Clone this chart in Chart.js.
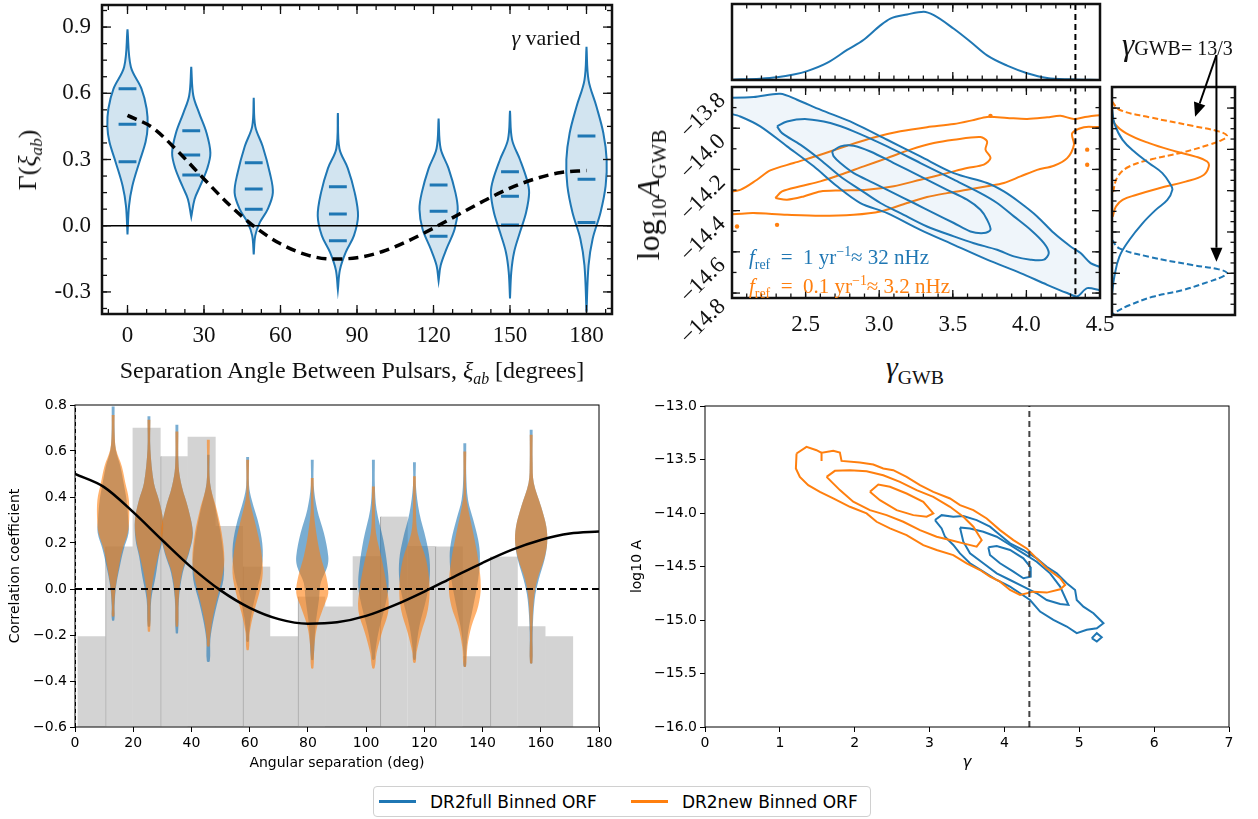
<!DOCTYPE html>
<html>
<head>
<meta charset="utf-8">
<title>Binned ORF violins and gamma - amplitude posteriors</title>
<script src="https://cdn.jsdelivr.net/npm/chart.js@4.4.1/dist/chart.umd.min.js"></script>
<style>
  html, body { margin: 0; padding: 0; background: #fff; }
  #fig { position: relative; width: 1258px; height: 819px; overflow: hidden; }
  #fig canvas { position: absolute; }
  .tx { position: absolute; white-space: nowrap; font-family: 'Liberation Serif', serif; color: #111; line-height: 1; }
  .tx sub, .tx sup { font-size: 0.66em; line-height: 0; }
  .ctr { transform: translate(-50%, -50%); }
  .rot { transform: translate(-50%, -50%) rotate(-90deg); }
  #legend { position: absolute; left: 373px; top: 786px; height: 31px; box-sizing: border-box;
            border: 1px solid #d0d0d0; border-radius: 4px; display: flex; align-items: center;
            padding: 0 12px 0 5px; font-family: 'DejaVu Sans', sans-serif; font-size: 17px; color: #000; }
  #legend .sw { display: inline-block; width: 37px; height: 3px; margin-right: 14px; }
  #legend .sw.o { margin-left: 34px; }
</style>
</head>
<body>
<div id="fig">
  <div class="tx rot" style="left:28px;top:160px;font-size:26px">&Gamma;(<i>&xi;</i><sub><i>ab</i></sub>)</div>
  <div class="tx ctr" style="left:352px;top:370px;font-size:24px">Separation Angle Between Pulsars, <i>&xi;</i><sub><i>ab</i></sub> [degrees]</div>
  <div class="tx ctr" style="left:546px;top:38px;font-size:22px"><i>&gamma;</i> varied</div>

  <div class="tx rot" style="left:648px;top:195px;font-size:32px">log<sub>10</sub><i>A</i><sub>GWB</sub></div>
  <div class="tx ctr" style="left:915px;top:367px;font-size:30px"><i>&gamma;</i><sub>GWB</sub></div>
  <div class="tx" style="left:749px;top:247px;font-size:21px;color:#1f77b4"><i>f</i><sub>ref</sub>&nbsp;&nbsp;=&nbsp;&nbsp;1 yr<sup>&minus;1</sup>&asymp; 32 nHz</div>
  <div class="tx" style="left:749px;top:276px;font-size:21px;color:#ff7f0e"><i>f</i><sub>ref</sub>&nbsp;&nbsp;=&nbsp;&nbsp;0.1 yr<sup>&minus;1</sup>&asymp; 3.2 nHz</div>
  <div class="tx" style="left:1122px;top:29px;font-size:20px"><i style="font-size:31px">&gamma;</i>GWB= 13/3</div>

  <div id="legend"><i class="sw" style="background:#1f77b4"></i><span>DR2full Binned ORF</span><i class="sw o" style="background:#ff7f0e"></i><span>DR2new Binned ORF</span></div>
</div>
<script>
// ---- top left: binned ORF, gamma varied ----
const sepTicksA = [0, 30, 60, 90, 120, 150, 180];
const gammaTicksA = [-0.3, 0, 0.3, 0.6, 0.9];
const sepAnglesA = [0, 25, 49.5, 82.5, 122, 150, 180];
// [correlation, half width in degrees]
const violinsA = [
  [[0.89,0],[0.72,1.3],[0.62,5.5],[0.53,7.5],[0.45,7.9],[0.38,7.1],[0.29,4.7],[0.18,1.9],[0.09,0.6],[-0.04,0]],
  [[0.72,0],[0.59,0.8],[0.51,3.1],[0.42,6.0],[0.33,7.5],[0.26,6.3],[0.18,3.5],[0.12,1.3],[0.04,0]],
  [[0.58,0],[0.45,0.6],[0.36,3.5],[0.24,6.3],[0.15,7.5],[0.075,5.5],[0.015,2.4],[-0.045,0.6],[-0.13,0]],
  [[0.51,0],[0.35,0.6],[0.26,3.9],[0.15,6.6],[0.045,7.9],[-0.045,6.3],[-0.12,3.1],[-0.2,0.8],[-0.29,0]],
  [[0.485,0],[0.35,0.8],[0.26,3.9],[0.15,6.6],[0.075,7.5],[-0.015,6.3],[-0.105,3.1],[-0.18,0.8],[-0.25,0]],
  [[0.52,0],[0.39,0.8],[0.30,3.9],[0.21,6.6],[0.15,7.5],[0.06,6.3],[-0.03,3.9],[-0.12,1.6],[-0.21,0.5],[-0.33,0]],
  [[0.81,0],[0.66,0.8],[0.54,3.9],[0.42,6.6],[0.30,7.9],[0.18,7.5],[0.06,5.5],[-0.06,2.4],[-0.18,0.8],[-0.39,0]]
];
const quantilesA = [[0.62,0.46,0.29],[0.43,0.32,0.23],[0.285,0.166,0.075],[0.176,0.053,-0.068],
                    [0.184,0.065,-0.048],[0.244,0.133,0.003],[0.407,0.211,0.015]];

// Hellings-Downs curve
const hdAngles = [0,10,20,30,40,50,60,70,80,90,100,110,120,130,140,150,160,170,180];
const hdValues = [0.5,0.443,0.334,0.212,0.094,-0.006,-0.082,-0.131,-0.151,-0.145,-0.117,-0.069,-0.011,0.052,0.114,0.170,0.213,0.241,0.25];

// ---- top right: gamma / log10 A posteriors ----
const gammaFixed = 4.333;
const gammaTicksTR = [2.5, 3.0, 3.5, 4.0, 4.5];
const ampTicksTR = [-14.8, -14.6, -14.4, -14.2, -14.0, -13.8];
const ampTicksMarg = [-14.7, -14.5, -14.3, -14.1, -13.9];
const topGamma = [2.0,2.192,2.306,2.419,2.51,2.646,2.782,2.895,3.008,3.076,3.19,3.303,3.371,3.507,3.62,3.733,3.869,4.005,4.141,4.3,4.504];
const topDensity = [0.005,0.02,0.04,0.08,0.13,0.25,0.44,0.59,0.8,0.9,0.96,1.0,0.95,0.75,0.56,0.36,0.21,0.1,0.03,0.01,0];
// contours [gamma, log10 A]
const trBlueOuter = [[1.92,-13.854],[2.147,-13.849],[2.328,-13.833],[2.442,-13.862],[2.6,-13.91],[2.827,-13.975],[3.054,-14.056],[3.28,-14.137],[3.507,-14.218],[3.733,-14.266],[3.847,-14.307],[3.96,-14.363],[4.073,-14.428],[4.187,-14.509],[4.3,-14.574],[4.368,-14.606],[4.436,-14.655],[4.527,-14.687],[4.527,-14.784],[4.413,-14.776],[4.345,-14.816],[4.277,-14.8],[4.141,-14.76],[3.96,-14.703],[3.733,-14.638],[3.507,-14.566],[3.28,-14.493],[3.054,-14.412],[2.872,-14.363],[2.714,-14.282],[2.555,-14.185],[2.374,-14.088],[2.192,-13.991],[2.056,-13.943],[1.92,-13.91]];
const trBlueMid = [[2.306,-13.991],[2.374,-13.967],[2.51,-13.956],[2.668,-13.975],[2.827,-14.015],[3.054,-14.088],[3.28,-14.169],[3.507,-14.25],[3.688,-14.315],[3.801,-14.363],[3.915,-14.428],[4.028,-14.493],[4.119,-14.558],[4.152,-14.606],[4.119,-14.638],[4.028,-14.638],[3.915,-14.622],[3.801,-14.59],[3.643,-14.558],[3.507,-14.525],[3.325,-14.477],[3.144,-14.412],[3.008,-14.363],[2.872,-14.299],[2.736,-14.234],[2.6,-14.153],[2.464,-14.08],[2.34,-14.024]];
const trBlueInner = [[2.68,-14.113],[2.736,-14.088],[2.827,-14.085],[2.94,-14.113],[3.099,-14.169],[3.28,-14.234],[3.461,-14.299],[3.597,-14.347],[3.688,-14.396],[3.733,-14.444],[3.756,-14.493],[3.711,-14.509],[3.62,-14.501],[3.507,-14.46],[3.371,-14.412],[3.235,-14.363],[3.099,-14.315],[2.963,-14.266],[2.827,-14.218],[2.736,-14.169],[2.691,-14.137]];
const trOrangeOuter = [[1.92,-14.312],[2.056,-14.299],[2.17,-14.25],[2.26,-14.205],[2.419,-14.169],[2.6,-14.129],[2.782,-14.085],[2.963,-14.045],[3.144,-14.015],[3.325,-13.995],[3.507,-13.98],[3.643,-13.96],[3.733,-13.945],[3.869,-13.95],[4.005,-13.955],[4.141,-13.947],[4.232,-13.94],[4.323,-13.955],[4.413,-13.944],[4.527,-13.94],[4.527,-13.99],[4.391,-13.995],[4.311,-14.025],[4.323,-14.08],[4.277,-14.145],[4.187,-14.182],[4.073,-14.202],[3.96,-14.234],[3.847,-14.266],[3.733,-14.282],[3.597,-14.299],[3.461,-14.315],[3.325,-14.334],[3.19,-14.363],[3.008,-14.404],[2.827,-14.42],[2.6,-14.425],[2.374,-14.42],[2.147,-14.412],[1.92,-14.409]];
const trOrangeInner = [[2.294,-14.339],[2.34,-14.307],[2.464,-14.282],[2.6,-14.258],[2.736,-14.226],[2.895,-14.185],[3.054,-14.145],[3.212,-14.104],[3.371,-14.072],[3.507,-14.056],[3.688,-14.043],[3.733,-14.064],[3.722,-14.104],[3.756,-14.145],[3.711,-14.177],[3.597,-14.193],[3.461,-14.218],[3.28,-14.25],[3.099,-14.282],[2.917,-14.299],[2.736,-14.302],[2.6,-14.307],[2.487,-14.331],[2.374,-14.347]];
const trOrangeSpecks = [[4.413,-14.104],[4.413,-14.177],[2.306,-14.469],[2.034,-14.477],[3.756,-13.94]];
// right marginal [density, log10 A]
const margOrange = [[0,-13.924],[0.02,-13.973],[0.12,-14.021],[0.32,-14.07],[0.55,-14.11],[0.72,-14.135],[0.82,-14.159],[0.834,-14.183],[0.79,-14.224],[0.634,-14.256],[0.406,-14.288],[0.206,-14.321],[0.091,-14.345],[0.034,-14.377],[0.006,-14.426]];
const margBlue = [[0,-13.9],[0.02,-13.973],[0.091,-14.054],[0.206,-14.118],[0.32,-14.167],[0.434,-14.215],[0.506,-14.272],[0.52,-14.296],[0.477,-14.345],[0.377,-14.393],[0.263,-14.458],[0.149,-14.539],[0.063,-14.62],[0.02,-14.717],[0,-14.798]];
const margOrangeFixed = [[0,-13.868],[0.063,-13.908],[0.32,-13.944],[0.691,-13.986],[0.92,-14.013],[0.991,-14.034],[0.949,-14.054],[0.834,-14.078],[0.606,-14.115],[0.349,-14.147],[0.149,-14.183],[0.049,-14.232],[0.006,-14.313]];
const margBlueFixed = [[0,-14.539],[0.063,-14.579],[0.32,-14.62],[0.691,-14.66],[0.92,-14.681],[0.991,-14.698],[0.949,-14.717],[0.834,-14.741],[0.606,-14.782],[0.349,-14.814],[0.149,-14.855],[0.034,-14.887],[0,-14.903]];
const arrowFrom = [0.9, -13.643];
const arrowTo = [[0.716, -13.942], [0.9, -14.644]];

// ---- bottom left: binned ORF violins + pair histogram ----
const angleTicksB = [0, 20, 40, 60, 80, 100, 120, 140, 160, 180];
const corrTicksB = [-0.6, -0.4, -0.2, 0, 0.2, 0.4, 0.6, 0.8];
const histCenters = [5.7,15.2,24.6,34.1,43.5,52.9,62.4,71.8,81.3,90.7,100.2,109.6,119.1,128.5,137.9,147.4,156.8,166.3];
const histHeights = [-0.207,0.185,0.70,0.577,0.66,0.272,0.098,-0.207,-0.033,-0.078,0.141,0.315,0.185,0.185,-0.294,0.141,-0.163,-0.207];
const histEdgeBins = [1, 3, 6, 8, 11, 13, 15];
const sepAnglesB = [13.1, 25.4, 35.0, 45.8, 59.3, 81.5, 102.5, 116.6, 133.9, 156.7];
const violinsFull = [
  [[0.794,0.5],[0.70,0.5],[0.606,0.9],[0.533,2.5],[0.461,3.6],[0.388,4.6],[0.301,5.2],[0.243,5.3],[0.171,3.6],[0.098,2.3],[0.011,1.0],[-0.075,0.5],[-0.136,0.4]],
  [[0.751,0.5],[0.606,0.5],[0.461,1.7],[0.388,3.4],[0.301,4.8],[0.214,4.6],[0.142,3.4],[0.055,2.3],[-0.046,0.8],[-0.162,0.4]],
  [[0.714,0.5],[0.533,0.6],[0.446,1.7],[0.345,4.0],[0.243,5.5],[0.157,4.2],[0.07,2.0],[-0.046,0.7],[-0.191,0.4]],
  [[0.584,0.4],[0.461,0.6],[0.345,2.6],[0.243,4.2],[0.128,5.3],[0.041,5.2],[-0.046,3.4],[-0.133,1.8],[-0.22,0.7],[-0.314,0.5]],
  [[0.574,0.5],[0.45,0.5],[0.388,1.4],[0.272,4.0],[0.171,5.2],[0.07,4.6],[-0.017,2.9],[-0.104,1.4],[-0.191,0.5],[-0.228,0.4]],
  [[0.562,0.5],[0.45,0.5],[0.345,1.7],[0.243,4.0],[0.142,5.5],[0.098,5.2],[0.026,2.9],[-0.046,2.3],[-0.162,1.1],[-0.307,0.4]],
  [[0.562,0.5],[0.45,0.5],[0.345,1.1],[0.214,3.4],[0.098,4.8],[0.011,5.2],[-0.075,4.0],[-0.191,1.7],[-0.278,0.6],[-0.307,0.4]],
  [[0.551,0.5],[0.45,0.5],[0.33,1.7],[0.214,4.0],[0.128,5.2],[0.041,5.2],[-0.046,4.0],[-0.162,1.7],[-0.26,0.6],[-0.307,0.4]],
  [[0.634,0.5],[0.5,0.5],[0.388,1.1],[0.301,2.9],[0.214,4.6],[0.142,5.2],[0.041,4.6],[-0.075,2.9],[-0.191,1.1],[-0.3,0.4],[-0.337,0.4]],
  [[0.692,0.5],[0.55,0.5],[0.461,0.9],[0.359,3.4],[0.272,5.2],[0.2,5.5],[0.128,4.6],[0.041,2.6],[-0.046,1.2],[-0.19,0.5],[-0.322,0.4]]
];
const violinsNew = [
  [[0.757,0.5],[0.68,0.5],[0.606,1.0],[0.533,3.0],[0.461,4.2],[0.388,5.4],[0.301,5.5],[0.243,5.0],[0.171,3.2],[0.098,2.0],[0.011,0.9],[-0.075,0.4],[-0.119,0.4]],
  [[0.736,0.5],[0.606,0.5],[0.461,1.7],[0.388,3.4],[0.301,4.8],[0.214,4.4],[0.142,3.1],[0.055,1.6],[-0.046,0.6],[-0.184,0.4]],
  [[0.685,0.5],[0.533,0.6],[0.446,1.7],[0.345,4.0],[0.243,5.4],[0.157,4.0],[0.07,1.7],[-0.046,0.6],[-0.162,0.4]],
  [[0.649,0.5],[0.461,0.6],[0.345,2.9],[0.243,4.6],[0.128,5.5],[0.041,4.6],[-0.046,2.9],[-0.133,1.4],[-0.22,0.5],[-0.249,0.4]],
  [[0.562,0.5],[0.45,0.4],[0.388,0.7],[0.272,2.9],[0.171,4.6],[0.07,5.2],[-0.017,4.0],[-0.104,2.1],[-0.191,0.7],[-0.264,0.4]],
  [[0.483,0.5],[0.35,0.5],[0.243,1.4],[0.142,2.9],[0.055,4.8],[-0.017,5.5],[-0.075,4.0],[-0.162,1.7],[-0.249,0.7],[-0.344,0.4]],
  [[0.446,0.5],[0.35,0.5],[0.243,0.9],[0.128,2.9],[0.011,4.6],[-0.09,5.2],[-0.191,2.9],[-0.278,1.1],[-0.344,0.4]],
  [[0.49,0.5],[0.35,0.5],[0.243,1.1],[0.128,4.0],[0.011,5.2],[-0.09,4.6],[-0.191,2.3],[-0.278,0.7],[-0.32,0.4]],
  [[0.598,0.5],[0.45,0.4],[0.388,0.6],[0.243,2.9],[0.128,4.6],[0.011,5.5],[-0.075,4.6],[-0.162,2.3],[-0.25,0.9],[-0.337,0.4]],
  [[0.671,0.5],[0.55,0.5],[0.461,0.9],[0.359,3.4],[0.272,5.2],[0.2,5.5],[0.128,4.4],[0.041,2.1],[-0.046,0.9],[-0.19,0.4],[-0.322,0.4]]
];

// ---- bottom right: gamma / log10 A contours ----
const gammaTicksD = [0, 1, 2, 3, 4, 5, 6, 7];
const ampTicksD = [-16, -15.5, -15, -14.5, -14, -13.5, -13];
const dOrangeOuter = [[1.223,-13.444],[1.356,-13.382],[1.49,-13.413],[1.557,-13.438],[1.557,-13.513],[1.557,-13.438],[1.713,-13.419],[1.802,-13.435],[1.824,-13.513],[2.069,-13.528],[2.248,-13.547],[2.381,-13.584],[2.515,-13.6],[2.693,-13.662],[2.872,-13.74],[3.05,-13.802],[3.273,-13.864],[3.407,-13.926],[3.585,-13.973],[3.763,-14.051],[3.941,-14.16],[4.12,-14.253],[4.298,-14.331],[4.431,-14.424],[4.565,-14.517],[4.744,-14.61],[4.81,-14.673],[4.744,-14.713],[4.565,-14.744],[4.387,-14.735],[4.209,-14.766],[4.075,-14.719],[3.941,-14.642],[3.807,-14.595],[3.674,-14.533],[3.496,-14.47],[3.317,-14.393],[3.094,-14.346],[2.916,-14.3],[2.693,-14.206],[2.471,-14.144],[2.292,-14.082],[2.159,-14.004],[1.936,-13.942],[1.713,-13.864],[1.535,-13.802],[1.379,-13.74],[1.267,-13.662],[1.214,-13.584]];
const dOrangeMid = [[1.624,-13.662],[1.735,-13.606],[1.936,-13.6],[2.159,-13.609],[2.381,-13.647],[2.604,-13.709],[2.827,-13.786],[3.05,-13.849],[3.273,-13.942],[3.451,-14.035],[3.585,-14.128],[3.696,-14.253],[3.629,-14.315],[3.451,-14.284],[3.273,-14.253],[3.094,-14.222],[2.872,-14.16],[2.649,-14.082],[2.426,-14.02],[2.203,-13.973],[1.98,-13.895],[1.802,-13.786]];
const dOrangeInner = [[2.203,-13.802],[2.315,-13.734],[2.471,-13.755],[2.693,-13.818],[2.916,-13.895],[3.05,-14.004],[2.961,-14.035],[2.783,-14.02],[2.56,-13.973],[2.337,-13.88]];
const dBlueOuter = [[3.072,-14.066],[3.161,-14.02],[3.317,-14.035],[3.451,-14.029],[3.629,-14.066],[3.807,-14.128],[3.941,-14.206],[4.075,-14.284],[4.253,-14.346],[4.431,-14.424],[4.565,-14.502],[4.699,-14.564],[4.833,-14.657],[4.944,-14.719],[4.966,-14.813],[5.055,-14.875],[5.189,-14.937],[5.323,-15.03],[5.234,-15.077],[5.1,-15.092],[4.966,-15.123],[4.833,-15.061],[4.654,-14.999],[4.476,-14.921],[4.342,-14.813],[4.209,-14.75],[4.075,-14.688],[3.897,-14.626],[3.718,-14.548],[3.54,-14.47],[3.406,-14.377],[3.317,-14.299],[3.206,-14.222],[3.161,-14.144]];
const dBlueIsland = [[5.167,-15.17],[5.234,-15.123],[5.3,-15.161],[5.234,-15.201]];
const dBlueMid = [[3.406,-14.135],[3.54,-14.144],[3.718,-14.175],[3.897,-14.222],[4.075,-14.299],[4.253,-14.377],[4.431,-14.455],[4.61,-14.564],[4.744,-14.688],[4.855,-14.859],[4.744,-14.85],[4.565,-14.813],[4.431,-14.75],[4.253,-14.688],[4.075,-14.626],[3.897,-14.564],[3.718,-14.47],[3.54,-14.377],[3.451,-14.268]];
const dBlueInner = [[3.785,-14.321],[3.897,-14.309],[4.075,-14.346],[4.253,-14.424],[4.342,-14.502],[4.351,-14.595],[4.253,-14.61],[4.12,-14.548],[3.941,-14.47],[3.807,-14.393]];

// ---------------------------------------------------------------------
const colors = { blue: '#1f77b4', orange: '#ff7f0e', ink: '#111' };
const serif = "'Liberation Serif', 'Times New Roman', serif";
Chart.defaults.font.family = "'DejaVu Sans', sans-serif";
Chart.defaults.color = '#000';
Chart.defaults.elements.point.radius = 0;

const fig = document.getElementById('fig');
function mount(area, m) {
  const c = document.createElement('canvas');
  const w = area[2] - area[0] + m[1] + m[3];
  const h = area[3] - area[1] + m[0] + m[2];
  c.width = w; c.height = h;
  c.style.left = (area[0] - m[3]) + 'px';
  c.style.top = (area[1] - m[0]) + 'px';
  c.style.width = w + 'px'; c.style.height = h + 'px';
  fig.insertBefore(c, fig.firstChild);
  return c;
}
const fixAxis = size => s => {
  if (s.isHorizontal()) s.height = size; else s.width = size;
  s.paddingLeft = s.paddingRight = s.paddingTop = s.paddingBottom = 0;
};
const setTicks = vals => s => { s.ticks = vals.map(value => ({ value })); };
const pts = arr => arr.map(([x, y]) => ({ x, y }));
const ring = arr => pts(arr.concat([arr[0]]));
function violin(center, profile) {
  const right = profile.map(([v, w]) => ({ x: center + w, y: v }));
  const left = profile.slice().reverse().map(([v, w]) => ({ x: center - w, y: v }));
  return right.concat(left);
}
function baseOptions(m) {
  return {
    responsive: false, animation: false, events: [], devicePixelRatio: 1,
    layout: { autoPadding: false, padding: { top: m[0], right: m[1], bottom: 0, left: 0 } },
  };
}
const hidden = { legend: { display: false }, tooltip: { enabled: false } };
const minus = v => (v < 0 ? '\u2212' : '') + Math.abs(v).toFixed(1);

// frame with inward ticks (journal style panels)
function frameTicks(conf) {
  return {
    id: 'frameTicks',
    afterDatasetsDraw(chart) {
      const { ctx, chartArea: a, scales } = chart;
      ctx.save();
      ctx.strokeStyle = conf.color || colors.ink;
      ctx.lineWidth = conf.tickWidth || 1.3;
      const mark = (s, side, v, len) => {
        const p = s.getPixelForValue(v);
        ctx.beginPath();
        if (side === 'bottom') { ctx.moveTo(p, a.bottom); ctx.lineTo(p, a.bottom - len); }
        else if (side === 'top') { ctx.moveTo(p, a.top); ctx.lineTo(p, a.top + len); }
        else if (side === 'left') { ctx.moveTo(a.left, p); ctx.lineTo(a.left + len, p); }
        else { ctx.moveTo(a.right, p); ctx.lineTo(a.right - len, p); }
        ctx.stroke();
      };
      ['x', 'y'].forEach(id => {
        const t = conf[id];
        if (!t) return;
        const s = scales[id];
        if (t.minor) {
          for (let i = Math.ceil(s.min / t.minor - 1e-6); i * t.minor <= s.max + 1e-9; i++) {
            t.sides.forEach(side => mark(s, side, i * t.minor, conf.minorLen));
          }
        }
        s.ticks.forEach(tk => t.sides.forEach(side => mark(s, side, tk.value, conf.majorLen)));
      });
      if (conf.rotY) {
        const s = scales.y;
        ctx.fillStyle = colors.ink;
        ctx.font = conf.rotY.font;
        ctx.textAlign = 'right';
        ctx.textBaseline = 'middle';
        s.ticks.forEach(tk => {
          ctx.save();
          ctx.translate(a.left - conf.rotY.dx, s.getPixelForValue(tk.value) + conf.rotY.dy);
          ctx.rotate(-Math.PI / 4);
          ctx.fillText(minus(tk.value), 0, 0);
          ctx.restore();
        });
      }
      ctx.lineWidth = conf.frame;
      ctx.strokeRect(a.left, a.top, a.width, a.height);
      ctx.restore();
    }
  };
}

const serifTicks = (cb, pad) => ({ font: { family: serif, size: 23 }, color: colors.ink, padding: pad,
                                   autoSkip: false, maxRotation: 0, callback: cb });
const noGrid = { display: false, drawTicks: false };

// ================= top left =================
const areaA = [102, 5, 612, 314], mA = [5, 20, 40, 102];
const dsA = [];
dsA.push({ data: hdAngles.map((x, i) => ({ x, y: hdValues[i] })), borderColor: '#000', borderWidth: 3.5,
           borderDash: [10, 6], cubicInterpolationMode: 'monotone', order: 0 });
dsA.push({ data: [{ x: -10, y: 0 }, { x: 190, y: 0 }], borderColor: '#000', borderWidth: 1.5, order: 1 });
sepAnglesA.forEach((c, i) => {
  const seg = [];
  quantilesA[i].forEach(q => { seg.push({ x: c - 3.5, y: q }, { x: c + 3.5, y: q }, { x: c, y: null }); });
  dsA.push({ data: seg, borderColor: colors.blue, borderWidth: 3, order: 2 });
  dsA.push({ data: violin(c, violinsA[i]), borderColor: colors.blue, borderWidth: 2,
             backgroundColor: 'rgba(31,119,180,0.2)', fill: 'shape', tension: 0.35, order: 3 });
});
new Chart(mount(areaA, mA), {
  type: 'line',
  data: { datasets: dsA },
  options: Object.assign(baseOptions(mA), {
    plugins: hidden,
    scales: {
      x: { type: 'linear', offset: false, min: -10, max: 190, afterFit: fixAxis(mA[2]), afterBuildTicks: setTicks(sepTicksA),
           grid: noGrid, border: { display: false }, ticks: serifTicks(v => String(v), 8) },
      y: { type: 'linear', min: -0.4, max: 1.0, afterFit: fixAxis(mA[3]), afterBuildTicks: setTicks(gammaTicksA),
           grid: noGrid, border: { display: false }, ticks: serifTicks(v => v.toFixed(1), 11) }
    }
  }),
  plugins: [frameTicks({ frame: 2.5, majorLen: 9, minorLen: 5,
                         x: { minor: 7.5, sides: ['top', 'bottom'] }, y: { minor: 0.075, sides: ['left', 'right'] } })]
});

// ================= top right: marginal on gamma =================
const areaT = [732, 4, 1100, 80], mT = [4, 6, 4, 6];
new Chart(mount(areaT, mT), {
  type: 'line',
  data: { datasets: [
    { data: [{ x: gammaFixed, y: 0 }, { x: gammaFixed, y: 1.2 }], borderColor: '#000', borderWidth: 2, borderDash: [6, 4] },
    { data: topGamma.map((x, i) => ({ x, y: topDensity[i] })), borderColor: colors.blue, borderWidth: 2,
      cubicInterpolationMode: 'monotone' }
  ]},
  options: Object.assign(baseOptions(mT), {
    plugins: hidden,
    scales: {
      x: { type: 'linear', offset: false, min: 2.0, max: 4.5, afterFit: fixAxis(mT[2]), afterBuildTicks: setTicks([2.5, 3.0, 3.5, 4.0]),
           grid: noGrid, border: { display: false }, ticks: { display: false } },
      y: { type: 'linear', min: 0, max: 1.113, afterFit: fixAxis(mT[3]),
           grid: noGrid, border: { display: false }, ticks: { display: false } }
    }
  }),
  plugins: [frameTicks({ frame: 2.5, majorLen: 8, minorLen: 4.5, x: { minor: 0.1, sides: ['top', 'bottom'] } })]
});

// ================= top right: main contours =================
const areaM = [732, 87, 1100, 298], mM = [5, 22, 52, 110];
const line = (arr, color, extra) => Object.assign({ data: ring(arr), borderColor: color, borderWidth: 2, tension: 0.3 }, extra || {});
new Chart(mount(areaM, mM), {
  type: 'line',
  data: { datasets: [
    { data: [{ x: gammaFixed, y: -15 }, { x: gammaFixed, y: -13.6 }], borderColor: '#000', borderWidth: 2, borderDash: [6, 4], order: 0 },
    line(trBlueInner, colors.blue, { order: 1 }),
    line(trBlueMid, colors.blue, { order: 1 }),
    line(trBlueOuter, colors.blue, { order: 1, fill: 'shape', backgroundColor: 'rgba(31,119,180,0.07)' }),
    line(trOrangeInner, colors.orange, { order: 2 }),
    line(trOrangeOuter, colors.orange, { order: 2 }),
    { data: pts(trOrangeSpecks), showLine: false, pointRadius: 2.2, pointBackgroundColor: colors.orange,
      pointBorderWidth: 0, order: 2 }
  ]},
  options: Object.assign(baseOptions(mM), {
    plugins: hidden,
    scales: {
      x: { type: 'linear', offset: false, min: 2.0, max: 4.5, afterFit: fixAxis(mM[2]), afterBuildTicks: setTicks(gammaTicksTR),
           grid: noGrid, border: { display: false },
           ticks: { font: { family: serif, size: 23 }, color: colors.ink, padding: 13, autoSkip: false, maxRotation: 0,
                    callback: v => v.toFixed(1) } },
      y: { type: 'linear', min: -14.824, max: -13.8, afterFit: fixAxis(mM[3]), afterBuildTicks: setTicks(ampTicksTR),
           grid: noGrid, border: { display: false }, ticks: { display: false } }
    }
  }),
  plugins: [frameTicks({ frame: 2.5, majorLen: 8, minorLen: 4.5,
                         x: { minor: 0.1, sides: ['top', 'bottom'] }, y: { minor: 0.1, sides: ['left', 'right'] },
                         rotY: { font: "23px 'Liberation Serif', serif", dx: 10, dy: 10 } })]
});

// ================= top right: marginal on log10 A =================
const areaR = [1112, 87, 1235, 315], mR = [87, 23, 5, 12];
const gammaArrows = {
  id: 'gammaArrows',
  afterDatasetsDraw(chart) {
    const { ctx, scales: { x, y } } = chart;
    const x0 = x.getPixelForValue(arrowFrom[0]), y0 = y.getPixelForValue(arrowFrom[1]);
    ctx.save();
    ctx.strokeStyle = '#000'; ctx.fillStyle = '#000'; ctx.lineWidth = 2;
    arrowTo.forEach(([d, a]) => {
      const x1 = x.getPixelForValue(d), y1 = y.getPixelForValue(a);
      const ang = Math.atan2(y1 - y0, x1 - x0), L = 14, W = 6;
      const bx = x1 - L * Math.cos(ang), by = y1 - L * Math.sin(ang);
      ctx.beginPath(); ctx.moveTo(x0, y0); ctx.lineTo(bx, by); ctx.stroke();
      ctx.beginPath(); ctx.moveTo(x1, y1);
      ctx.lineTo(bx + W * Math.sin(ang), by - W * Math.cos(ang));
      ctx.lineTo(bx - W * Math.sin(ang), by + W * Math.cos(ang));
      ctx.closePath(); ctx.fill();
    });
    ctx.restore();
  }
};
const margLine = (arr, color, dashed) => ({ data: pts(arr), borderColor: color, borderWidth: 2, tension: 0.4,
                                           borderDash: dashed ? [6, 3] : [] });
new Chart(mount(areaR, mR), {
  type: 'line',
  data: { datasets: [
    margLine(margBlue, colors.blue, false),
    margLine(margOrange, colors.orange, false),
    margLine(margOrangeFixed, colors.orange, true),
    margLine(margBlueFixed, colors.blue, true)
  ]},
  options: Object.assign(baseOptions(mR), {
    plugins: hidden,
    scales: {
      x: { type: 'linear', offset: false, min: 0, max: 1.06, afterFit: fixAxis(mR[2]), grid: noGrid, border: { display: false },
           ticks: { display: false } },
      y: { type: 'linear', min: -14.902, max: -13.798, afterFit: fixAxis(mR[3]), afterBuildTicks: setTicks(ampTicksMarg),
           grid: noGrid, border: { display: false }, ticks: { display: false } }
    }
  }),
  plugins: [frameTicks({ frame: 2.5, majorLen: 8, minorLen: 4.5, y: { minor: 0.05, sides: ['left', 'right'] } }), gammaArrows]
});

// ================= bottom left =================
const mplGrid = { display: true, offset: false, drawOnChartArea: false, drawTicks: true, tickLength: 5, tickColor: '#000', tickWidth: 1 };
const mplTicks = cb => ({ font: { size: 14 }, color: '#000', padding: 3, autoSkip: false, maxRotation: 0, callback: cb });
const areaB = [75, 405, 599, 727], mB = [10, 21, 53, 75];
const dsB = [
  { data: [{ x: 0, y: 0 }, { x: 180, y: 0 }], borderColor: '#000', borderWidth: 2, borderDash: [7, 4], order: 0 },
  { data: [{ x: 0, y: -0.6 }, { x: 0, y: 0.8 }], borderColor: '#000', borderWidth: 2, borderDash: [4, 3], order: 0 },
  { data: hdAngles.map((x, i) => ({ x, y: hdValues[i] })), borderColor: '#000', borderWidth: 2.5,
    cubicInterpolationMode: 'monotone', order: 1 }
];
sepAnglesB.forEach((c, i) => {
  dsB.push({ data: violin(c, violinsNew[i]), borderWidth: 0, backgroundColor: 'rgba(255,127,14,0.6)',
             fill: 'shape', tension: 0.35, order: 3 });
  dsB.push({ data: violin(c, violinsFull[i]), borderWidth: 0, backgroundColor: 'rgba(31,119,180,0.6)',
             fill: 'shape', tension: 0.35, order: 4 });
});
dsB.push({ type: 'bar', data: histCenters.map((x, i) => ({ x, y: histHeights[i] })), base: -0.6,
           backgroundColor: '#d3d3d3', borderColor: '#a6a6a6',
           borderWidth: ctx => histEdgeBins.includes(ctx.dataIndex) ? { left: 1, top: 0, right: 0, bottom: 0 } : 0,
           barPercentage: 1, categoryPercentage: 1, order: 5 });
new Chart(mount(areaB, mB), {
  type: 'line',
  data: { datasets: dsB },
  options: Object.assign(baseOptions(mB), {
    plugins: hidden,
    scales: {
      x: { type: 'linear', offset: false, min: 0, max: 180, afterFit: fixAxis(mB[2]), afterBuildTicks: setTicks(angleTicksB),
           grid: mplGrid, border: { display: false }, ticks: mplTicks(v => String(v)),
           title: { display: true, text: 'Angular separation (deg)', font: { size: 14 }, color: '#000', padding: { top: 0, bottom: 8 } } },
      y: { type: 'linear', min: -0.6, max: 0.8, afterFit: fixAxis(mB[3]), afterBuildTicks: setTicks(corrTicksB),
           grid: mplGrid, border: { display: false }, ticks: mplTicks(minus),
           title: { display: true, text: 'Correlation coefficient', font: { size: 14 }, color: '#000', padding: { top: 7, bottom: 0 } } }
    }
  }),
  plugins: [frameTicks({ frame: 1, color: '#000' })]
});

// ================= bottom right =================
const areaD = [705, 406, 1229, 727], mD = [10, 22, 53, 85];
const cl = (arr, color) => ({ data: ring(arr), borderColor: color, borderWidth: 2, order: 1 });
new Chart(mount(areaD, mD), {
  type: 'line',
  data: { datasets: [
    { data: [{ x: gammaFixed, y: -16 }, { x: gammaFixed, y: -13 }], borderColor: '#444', borderWidth: 2, borderDash: [6, 4], order: 0 },
    cl(dOrangeOuter, colors.orange), cl(dOrangeMid, colors.orange), cl(dOrangeInner, colors.orange),
    cl(dBlueOuter, colors.blue), cl(dBlueMid, colors.blue), cl(dBlueInner, colors.blue), cl(dBlueIsland, colors.blue)
  ]},
  options: Object.assign(baseOptions(mD), {
    plugins: hidden,
    scales: {
      x: { type: 'linear', offset: false, min: 0, max: 7, afterFit: fixAxis(mD[2]), afterBuildTicks: setTicks(gammaTicksD),
           grid: mplGrid, border: { display: false }, ticks: mplTicks(v => String(v)),
           title: { display: true, text: '\u03b3', font: { size: 15, style: 'italic' }, color: '#000', padding: { top: 0, bottom: 8 } } },
      y: { type: 'linear', min: -16, max: -13, afterFit: fixAxis(mD[3]), afterBuildTicks: setTicks(ampTicksD),
           grid: mplGrid, border: { display: false }, ticks: mplTicks(minus),
           title: { display: true, text: 'log10 A', font: { size: 14 }, color: '#000', padding: { top: 9, bottom: 0 } } }
    }
  }),
  plugins: [frameTicks({ frame: 1, color: '#000' })]
});
</script>
</body>
</html>
